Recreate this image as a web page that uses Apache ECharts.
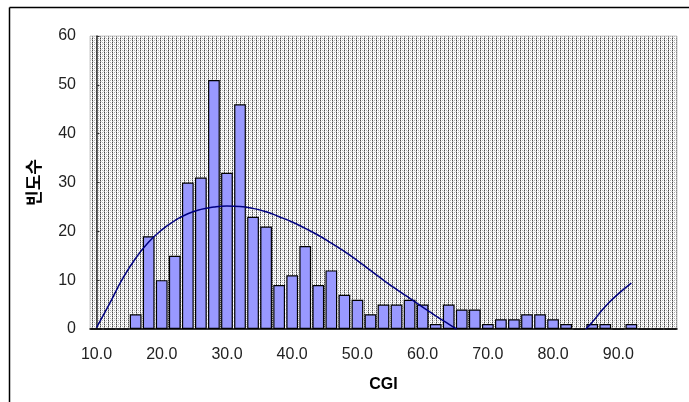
<!DOCTYPE html>
<html>
<head>
<meta charset="utf-8">
<script src="https://cdn.jsdelivr.net/npm/echarts@6/dist/echarts.min.js"></script>
<style>html,body{margin:0;padding:0;background:#fff;}#c{width:689px;height:402px;}</style>
</head>
<body>
<div id="c"></div>
<script>
// Categories (bin starts, step 2)
const categories = [];
for (let v = 10; v <= 98; v += 2) categories.push(v.toFixed(1));
// Frequencies per bin
const counts = [0,0,0,3,19,10,15,30,31,51,32,46,23,21,9,11,17,9,12,7,6,3,5,5,6,5,1,5,4,4,1,2,2,3,3,2,1,0,1,1,0,1,0,0,0];
// Trendline (category index position, value); null = break where it leaves the plot
const curveX = [0,1,2,3,4,5,6,7,8,9,10,11,12,13,14,15,16,17,18,19,20,21,22,23,24,25,26,27,27.6,null,37.5,38,39,40,41];
const curveY = [0.3,5.2,10.3,14.5,17.8,20.3,22.2,23.6,24.5,25.0,25.2,25.1,24.7,24.0,23.0,21.9,20.6,19.2,17.6,15.9,14.0,12.0,10.0,8.1,6.3,4.5,2.7,1.0,0,null,0,1.4,4.6,7.2,9.4];
const yTicks = [0,10,20,30,40,50,60];

const curveData = curveX.map((x, i) => x === null ? [null, null] : [x, curveY[i]]);

// dotted pattern like the spreadsheet fill
const pc = document.createElement('canvas');
pc.width = 4; pc.height = 4;
const g = pc.getContext('2d');
g.fillStyle = '#ffffff'; g.fillRect(0,0,4,4);
const px = (x,y,c)=>{g.fillStyle=c;g.fillRect(x,y,1,1);};
px(0,0,'#444'); px(0,1,'#aaa'); px(0,2,'#444'); px(0,3,'#aaa');
px(2,0,'#b0b0b0'); px(2,2,'#b0b0b0'); px(1,1,'#ddd'); px(3,3,'#ddd');

const chart = echarts.init(document.getElementById('c'));
const font = '"Liberation Sans", Arial, sans-serif';
chart.setOption({
  animation: false,
  graphic: [
    {type:'line', shape:{x1:9.5,y1:7.5,x2:689,y2:7.5}, style:{stroke:'#000',lineWidth:1.5}},
    {type:'line', shape:{x1:9.5,y1:7.5,x2:9.5,y2:402}, style:{stroke:'#000',lineWidth:1.5}}
  ],
  grid: {left: 90, top: 36, right: 12, bottom: 73, show: true,
         backgroundColor: {image: pc, repeat: 'repeat'}, borderColor: '#c8c8c8', borderWidth: 1},
  xAxis: [{
    type: 'category', data: categories, boundaryGap: true,
    name: 'CGI', nameLocation: 'middle', nameGap: 48,
    nameTextStyle: {fontFamily: font, fontSize: 16, fontWeight: 'bold', color: '#000'},
    axisLine: {lineStyle: {color: '#000', width: 1.5}},
    axisTick: {inside: true, length: 4, interval: 0, lineStyle: {color: '#000'}},
    axisLabel: {interval: 4, margin: 18, fontFamily: font, fontSize: 16, color: '#222'}
  }, {
    type: 'value', min: -0.5, max: 44.5, show: false
  }],
  yAxis: {
    type: 'value', min: 0, max: 60, interval: 10,
    name: '빈도수', nameLocation: 'middle', nameGap: 48, nameRotate: 90,
    nameTextStyle: {fontFamily: '"Noto Sans CJK KR", sans-serif', fontSize: 17, fontWeight: 'bold', color: '#000'},
    axisLine: {show: true, lineStyle: {color: '#333', width: 1.5}},
    axisTick: {show: true, inside: true, length: 3, lineStyle: {color: '#333'}},
    splitLine: {show: false},
    axisLabel: {margin: 14, fontFamily: font, fontSize: 16, color: '#222',
      formatter: v => yTicks.includes(v) ? String(v) : ''}
  },
  series: [{
    type: 'bar', data: counts, xAxisIndex: 0, barCategoryGap: '10%',
    itemStyle: {color: '#9999ff', borderColor: '#000', borderWidth: 1.2}
  }, {
    type: 'line', data: curveData, xAxisIndex: 1, smooth: true, showSymbol: false,
    connectNulls: false, clip: true,
    lineStyle: {color: '#000080', width: 1.5}
  }]
});
</script>
</body>
</html>
